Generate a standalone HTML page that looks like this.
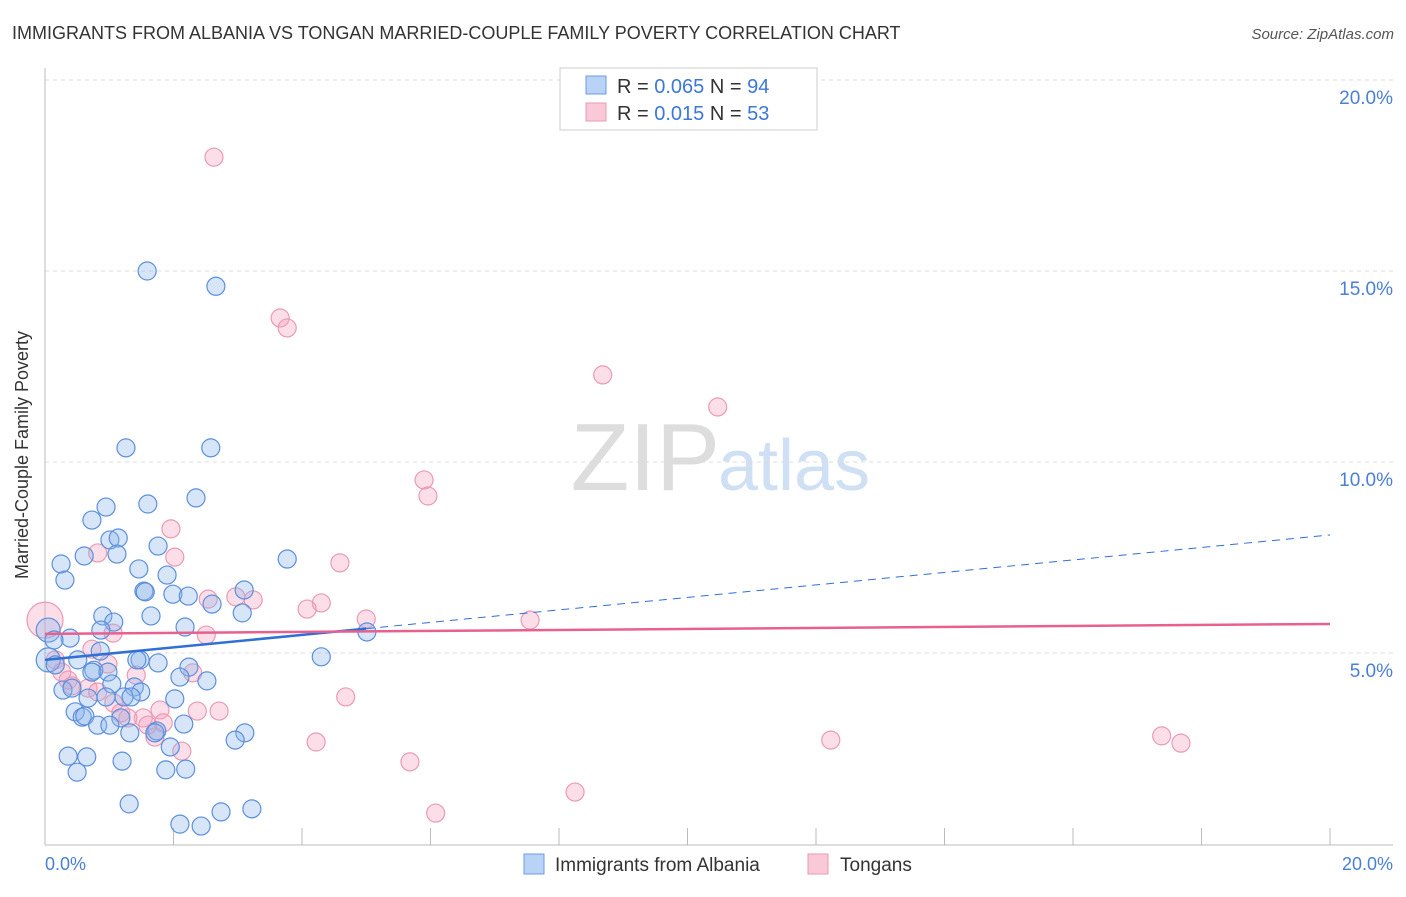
<!DOCTYPE html>
<html><head><meta charset="utf-8"><style>
body{margin:0;background:#fff;font-family:"Liberation Sans",sans-serif;}
svg text{font-family:"Liberation Sans",sans-serif;}
</style></head><body>
<svg width="1406" height="892" id="chart">
<text x="12" y="39" font-size="18" fill="#333">IMMIGRANTS FROM ALBANIA VS TONGAN MARRIED-COUPLE FAMILY POVERTY CORRELATION CHART</text>
<text x="1394" y="39" font-size="15" fill="#555" font-style="italic" text-anchor="end">Source: ZipAtlas.com</text>
<text x="720" y="490" font-size="96" fill="#ddd" text-anchor="end" font-family="Liberation Serif">ZIP</text>
<text x="718" y="490" font-size="72" fill="#cfe0f5">atlas</text>
<g id="grid"></g>
<line x1="45" y1="68" x2="45" y2="845" stroke="#bbb"/>
<line x1="45" y1="845" x2="1393" y2="845" stroke="#bbb"/>
<text x="28" y="455" font-size="18" fill="#333" transform="rotate(-90 28 455)" text-anchor="middle">Married-Couple Family Poverty</text>
<text x="45" y="870" font-size="18" fill="#4a7fd4">0.0%</text>
<text x="1393" y="870" font-size="18" fill="#4a7fd4" text-anchor="end">20.0%</text>
<g id="pts"></g><g id="lines"></g>
<g>
<rect x="560" y="68" width="257" height="62" fill="#fff" stroke="#ccc"/>
<rect x="586" y="76" width="20" height="18" fill="#b8d3f5" stroke="#6a9de0"/>
<rect x="586" y="103" width="20" height="18" fill="#f9c9d8" stroke="#e89ab3"/>
<text x="617" y="93" font-size="20" fill="#333">R = <tspan fill="#3b78d8">0.065</tspan>   N = <tspan fill="#3b78d8">94</tspan></text>
<text x="617" y="120" font-size="20" fill="#333">R =  <tspan fill="#3b78d8">0.015</tspan>   N = <tspan fill="#3b78d8">53</tspan></text>
</g>
<g>
<rect x="524" y="854" width="20" height="20" fill="#b8d3f5" stroke="#6a9de0"/>
<text x="555" y="871" font-size="19" fill="#333">Immigrants from Albania</text>
<rect x="808" y="854" width="20" height="20" fill="#f9c9d8" stroke="#e89ab3"/>
<text x="840" y="871" font-size="19" fill="#333">Tongans</text>
</g>
</svg>
<script>
const blueX=[1.59,2.66,1.26,2.58,2.35,1.60,0.95,0.73,1.01,1.14,1.76,0.61,1.12,0.25,3.77,1.46,0.31,1.90,1.54,1.56,3.10,1.99,2.23,2.60,0.90,1.65,3.07,1.07,0.87,2.18,5.01,0.39,0.05,0.14,0.86,4.30,0.05,0.16,0.51,1.48,1.43,1.76,2.24,0.76,0.73,0.98,2.10,2.52,1.04,1.39,0.28,0.42,1.49,1.23,0.67,1.34,0.95,2.02,0.47,0.58,0.62,1.18,0.82,1.01,2.16,1.74,1.32,3.11,2.96,1.95,0.36,0.65,1.20,0.50,1.88,2.19,1.31,2.10,2.43,2.74,3.22,1.71];
const blueY=[15.0,14.6,10.37,10.37,9.06,8.9,8.82,8.48,7.96,8.01,7.8,7.54,7.59,7.33,7.46,7.2,6.91,7.04,6.62,6.6,6.65,6.54,6.49,6.28,5.97,5.97,6.05,5.81,5.6,5.68,5.55,5.39,5.6,5.34,5.05,4.9,4.82,4.69,4.82,4.82,4.82,4.74,4.63,4.55,4.5,4.5,4.37,4.27,4.19,4.11,4.03,4.08,3.98,3.85,3.82,3.85,3.85,3.80,3.46,3.32,3.35,3.30,3.11,3.11,3.14,2.96,2.91,2.91,2.72,2.54,2.30,2.28,2.17,1.88,1.94,1.96,1.05,0.52,0.47,0.84,0.92,2.91];
const pinkX=[2.63,3.66,3.77,8.68,10.47,5.90,5.96,1.96,2.02,4.59,0.82,2.54,2.97,3.24,4.30,4.08,5.00,7.55,0,1.06,2.51,0.73,0.98,0.16,0.26,2.30,0.36,0.42,0.67,1.42,0.82,1.07,1.18,4.68,2.37,2.71,1.79,1.53,1.84,1.60,1.29,1.71,2.13,4.22,12.23,17.38,17.68,5.68,8.25,6.08];
const pinkY=[17.98,13.77,13.51,12.28,11.44,9.53,9.11,8.25,7.51,7.36,7.62,6.41,6.47,6.39,6.31,6.15,5.89,5.86,5.86,5.52,5.47,5.10,4.71,4.82,4.5,4.48,4.29,4.14,4.08,4.42,3.98,3.69,3.43,3.85,3.48,3.48,3.51,3.30,3.17,3.11,3.30,2.80,2.43,2.67,2.72,2.83,2.64,2.15,1.36,0.81];
const yTicks=[5,10,15,20];
const blueTrend=[4.82,8.09];
const pinkTrend=[5.50,5.76];
const X=v=>45+v/20*1285, Y=v=>844-v/5*191;
const NS='http://www.w3.org/2000/svg';
function mk(tag,attrs,parent){const e=document.createElementNS(NS,tag);for(const k in attrs)e.setAttribute(k,attrs[k]);parent.appendChild(e);return e;}
const grid=document.getElementById('grid');
yTicks.forEach(t=>{
 const l=mk('line',{x1:45,x2:1393,y1:Y(t),y2:Y(t),stroke:'#ddd','stroke-dasharray':'4,4'},grid);
 
 
 const tx=mk('text',{x:1393,y:Y(t)+24,'font-size':19,fill:'#4a7fd4','text-anchor':'end'},grid);
 tx.textContent=t.toFixed(1)+'%';
 
 
});
for(let i=1;i<=10;i++){
 const x=45+i*128.5;
 const l=mk('line',{x1:x,x2:x,y1:828,y2:845,stroke:'#bbb'},grid);
 
 
}
const pts=document.getElementById('pts');
pinkX.forEach((v,i)=>{
 const c=mk('circle',{cx:X(v),cy:Y(pinkY[i]),r:(v===0?18:9),fill:'rgba(245,160,190,0.35)',stroke:'#ea9ab5','stroke-width':1.2},pts);
 
 
});
blueX.forEach((v,i)=>{
 const c=mk('circle',{cx:X(v),cy:Y(blueY[i]),r:(v<0.1?12:9),fill:'rgba(140,180,235,0.35)',stroke:'#5b8fdc','stroke-width':1.2},pts);
 
 
});
const lines=document.getElementById('lines');
const bAt=x=>blueTrend[0]+(blueTrend[1]-blueTrend[0])*x/20;
let l1=mk('line',{x1:X(0),y1:Y(bAt(0)),x2:X(5),y2:Y(bAt(5)),stroke:'#2f6fd6','stroke-width':2.5},lines);


let l2=mk('line',{x1:X(5),y1:Y(bAt(5)),x2:X(20),y2:Y(bAt(20)),stroke:'#2f6fd6','stroke-width':1,'stroke-dasharray':'8,6'},lines);


let l3=mk('line',{x1:X(0),y1:Y(pinkTrend[0]),x2:X(20),y2:Y(pinkTrend[1]),stroke:'#e8608e','stroke-width':2.5},lines);


</script>
</body></html>
